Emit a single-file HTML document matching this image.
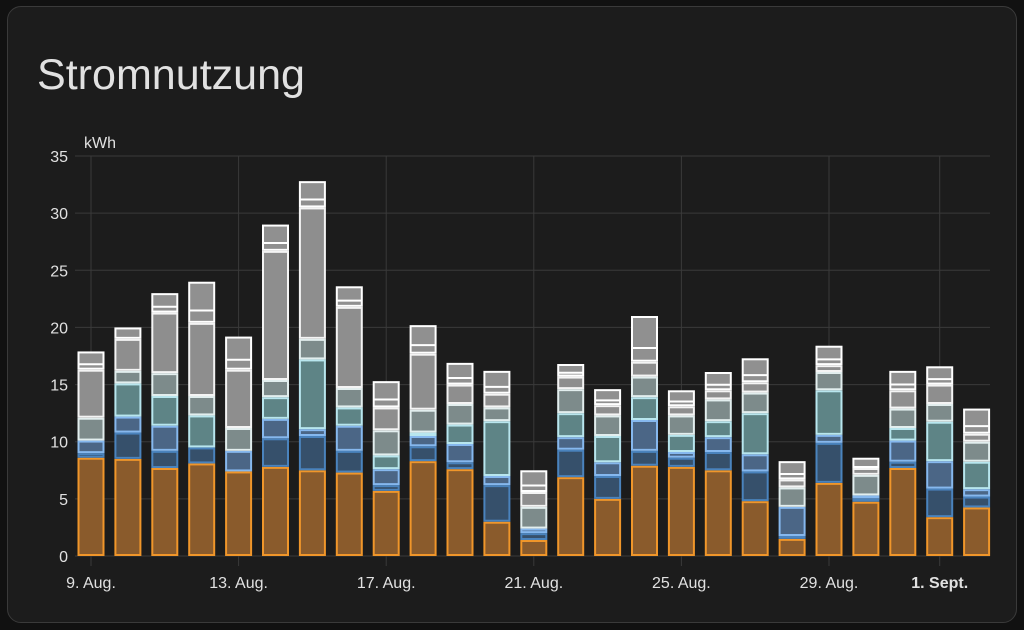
<!DOCTYPE html>
<html><head><meta charset="utf-8"><style>
html,body{margin:0;padding:0;background:#111;width:1024px;height:630px;overflow:hidden;font-family:"Liberation Sans",sans-serif}
#card{position:absolute;left:7px;top:6px;width:1008px;height:615px;background:#1c1c1c;border:1px solid #3a3a3a;border-radius:14px}
svg{position:absolute;left:0;top:0}
</style></head><body>
<div id="card"></div>
<svg id="chart" width="1024" height="630">
<text x="37" y="89" font-size="43" fill="#e1e1e1" textLength="268" lengthAdjust="spacingAndGlyphs">Stromnutzung</text>
<text x="84" y="148" font-size="16" fill="#e1e1e1">kWh</text>
<g id="grid"></g><g id="bars"></g><g id="labels"></g>
</svg>
<script>
const categories = ["9. Aug.","10. Aug.","11. Aug.","12. Aug.","13. Aug.","14. Aug.","15. Aug.","16. Aug.","17. Aug.","18. Aug.","19. Aug.","20. Aug.","21. Aug.","22. Aug.","23. Aug.","24. Aug.","25. Aug.","26. Aug.","27. Aug.","28. Aug.","29. Aug.","30. Aug.","31. Aug.","1. Sept.","2. Sept."];
const gridValues = [8.6,8.5,7.7,8.1,7.4,7.8,7.5,7.3,5.7,8.3,7.6,3.0,1.4,6.9,5.0,7.9,7.8,7.5,4.8,1.5,6.4,4.75,7.7,3.4,4.25];
const darkBlueValues = [0.4,2.3,1.5,1.4,0,2.5,3.0,1.9,0.5,1.3,0.6,3.2,0.6,2.4,2.0,1.3,0.8,1.6,2.6,0.25,3.5,0.3,0.55,2.5,0.95];
const blueValues = [1.1,1.4,2.2,0,1.8,1.7,0.6,2.2,1.4,0.9,1.6,0.8,0.4,1.1,1.2,2.7,0.5,1.3,1.5,2.55,0.7,0.25,1.85,2.4,0.65];
const tealValues = [0,2.9,2.6,2.8,0,1.9,6.1,1.6,1.2,0.3,1.7,4.8,0,2.1,2.3,2.0,1.5,1.4,3.6,0,3.9,0,1.1,3.45,2.4];
const grayTealValues = [2.0,1.1,2.0,1.7,2.0,1.5,1.8,1.7,2.2,2.0,1.8,1.2,1.9,2.1,1.8,1.8,1.7,1.9,1.8,1.7,1.6,1.8,1.7,1.55,1.75];
const grayValues = [4.2,2.8,5.3,6.4,5.1,11.3,11.5,7.1,2.0,4.9,1.7,1.2,1.3,1.1,0.9,1.3,0.8,0.8,0.9,0.7,0.6,0.6,1.6,1.7,0.7];
const capValues = [1.6,1.0,1.7,3.6,2.9,2.3,2.3,1.8,2.3,2.5,1.9,2.0,1.9,1.1,1.4,4.0,1.4,1.6,2.1,1.6,1.7,0.9,1.7,1.6,2.2];
const yTicks = [0,5,10,15,20,25,30,35];
const xTickIdx = [0,4,8,12,16,20,23];

const NS="http://www.w3.org/2000/svg";
const y0=556, pxPer=400/35, x0=91, step=36.9, bw=27;
const Y=v=>y0-v*pxPer, X=i=>x0+i*step;
function mk(t,a,p){const e=document.createElementNS(NS,t);for(const k in a)e.setAttribute(k,a[k]);p.appendChild(e);return e;}
const grid=document.getElementById('grid'), bars=document.getElementById('bars'), labels=document.getElementById('labels');
yTicks.forEach(v=>{
  const l=mk('line',{x1:75,x2:990,y1:Y(v),y2:Y(v),stroke:'#3a3a3a','stroke-width':1},grid);
  
  
  const t=mk('text',{x:68,y:Y(v)+6,'font-size':16,fill:'#e1e1e1','text-anchor':'end'},labels);
  t.textContent=v;
  
  
});
xTickIdx.forEach(i=>{
  const l=mk('line',{x1:X(i),x2:X(i),y1:156,y2:566,stroke:'#3a3a3a','stroke-width':1},grid);
  
  
  const t=mk('text',{x:X(i),y:588,'font-size':16,fill:'#e1e1e1','text-anchor':'middle','font-weight':categories[i].indexOf('Sept')>=0?'bold':'normal'},labels);
  t.textContent=categories[i];
  
  
});
const series=[
 [gridValues,'#8a5b2c','#f0962a','bar-grid'],
 [darkBlueValues,'#36506b','#4a83bd','bar-dark-blue'],
 [blueValues,'#4b6686','#86b8ee','bar-blue'],
 [tealValues,'#5e8486','#b8e6ee','bar-teal'],
 [grayTealValues,'#7d8b8b','#e2eeee','bar-gray-teal'],
 [grayValues,'#8e8e8e','#f4f4f4','bar-gray'],
 [capValues,'#909090','#ffffff','bar-cap']
];
categories.forEach((c,i)=>{
  let acc=0;
  series.forEach(s=>{
    const v=s[0][i]; if(v<=0) return;
    const top=Y(acc+v), bot=Y(acc);
    const r=mk('rect',{x:X(i)-bw/2+1,y:top+1,width:bw-2,height:Math.max(bot-top-2,0.5),fill:s[1],stroke:s[2],'stroke-width':2},bars);
    
    
    acc+=v;
  });
  const cap=capValues[i];
  if(cap>1){
    const capBase=acc-cap;
    [0.3].forEach(f=>{
      const l=mk('line',{x1:X(i)-bw/2+1,x2:X(i)+bw/2-1,y1:Y(capBase+cap*f),y2:Y(capBase+cap*f),stroke:'#fff','stroke-width':2},bars);
      
      
    });
  }
});
</script>
</body></html>
